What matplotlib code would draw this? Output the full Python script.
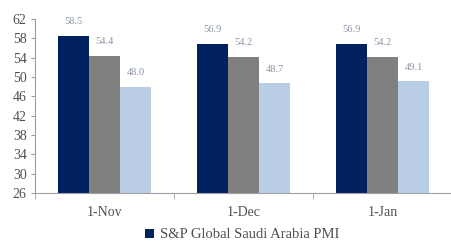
import matplotlib
matplotlib.use('Agg')
import matplotlib.pyplot as plt
import numpy as np

# values
categories = ['1-Nov', '1-Dec', '1-Jan']
pmi = [58.5, 56.9, 56.9]
series_2 = [54.4, 54.2, 54.2]
series_3 = [48.0, 48.7, 49.1]
legend_label = 'S&P Global Saudi Arabia PMI'

plt.rcParams['font.family'] = ['Liberation Serif', 'DejaVu Serif']

fig = plt.figure(figsize=(4.52, 2.41), dpi=100)
ax = fig.add_axes([35 / 452, 48 / 241, 417 / 452, 174 / 241])

x = np.arange(len(categories))
w = 0.223
colors = ['#002060', '#808080', '#b9cde5']
bars1 = ax.bar(x - w, pmi, w, color=colors[0], label=legend_label)
bars2 = ax.bar(x, series_2, w, color=colors[1])
bars3 = ax.bar(x + w, series_3, w, color=colors[2])

for bars, vals in [(bars1, pmi), (bars2, series_2), (bars3, series_3)]:
    for b, v in zip(bars, vals):
        ax.annotate('{:.1f}'.format(v), (b.get_x() + b.get_width() / 2, v),
                    xytext=(0, 7), textcoords='offset points', ha='center',
                    va='bottom', fontsize=7.5, color='#8a94a6')

ax.set_ylim(26, 62)
ax.set_yticks(np.arange(26, 63, 4))
ax.set_xlim(-0.5, -0.5 + 417 / 140)
ax.set_xticks(x)
ax.set_xticklabels(categories)
ax.set_xticks([-0.5, 0.5, 1.5, 2.5], minor=True)
ax.tick_params(axis='x', which='major', length=0, pad=9, labelsize=10, colors='#505050')
ax.tick_params(axis='x', which='minor', length=4, color='#a0a0a0', direction='out')
ax.tick_params(axis='y', length=3, color='#a0a0a0', labelsize=10, labelcolor='#505050', pad=3)
for s in ['top', 'right']:
    ax.spines[s].set_visible(False)
for s in ['left', 'bottom']:
    ax.spines[s].set_color('#a0a0a0')
    ax.spines[s].set_linewidth(0.8)

fig.legend(handles=[bars1], labels=[legend_label], loc='center',
           bbox_to_anchor=(242 / 452, 1 - 235 / 241), frameon=False,
           fontsize=10.5, handlelength=0.6, handleheight=0.6, handletextpad=0.4,
           labelcolor='#505050')

fig.savefig('out.png', dpi=100)
